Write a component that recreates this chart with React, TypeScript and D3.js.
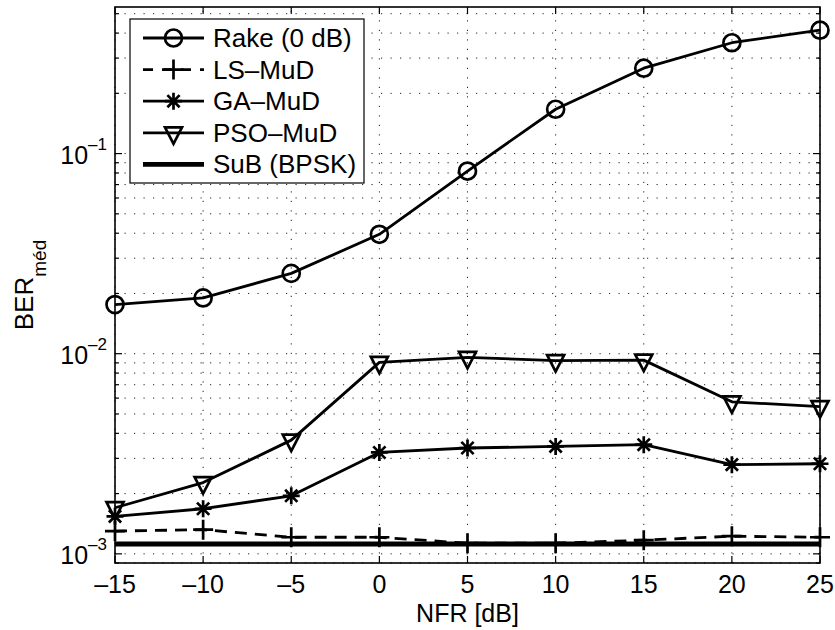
import React from "react";
import * as d3 from "d3";

// NFR sweep (dB) and median BER per detector
const nfr = [-15, -10, -5, 0, 5, 10, 15, 20, 25];
const rake = [0.0176, 0.019, 0.0252, 0.0395, 0.0818, 0.1665, 0.267, 0.358, 0.4135];
const lsMud = [0.0013, 0.00132, 0.00121, 0.00121, 0.00113, 0.00113, 0.00117, 0.001225, 0.00121];
const gaMud = [0.00154, 0.00168, 0.00195, 0.00321, 0.00338, 0.00344, 0.00351, 0.00279, 0.00282];
const psoMud = [0.0017, 0.00227, 0.0037, 0.00905, 0.00959, 0.00923, 0.00929, 0.00575, 0.00544];
const subBpsk = [0.00112, 0.00112, 0.00112, 0.00112, 0.00112, 0.00112, 0.00112, 0.00112, 0.00112];

const xTicks = [-15, -10, -5, 0, 5, 10, 15, 20, 25];
const yDecades = [-3, -2, -1];
const legendLabels = ["Rake (0 dB)", "LS\u2013MuD", "GA\u2013MuD", "PSO\u2013MuD", "SuB (BPSK)"];

const W = 835;
const H = 630;
const M = { left: 115, right: 820, top: 7, bottom: 563 };
const FONT = "'Liberation Sans', Arial, Helvetica, sans-serif";

type Kind = "circle" | "plus" | "star" | "tri" | "none";

function Marker({ kind, cx, cy }: { kind: Kind; cx: number; cy: number }) {
  const sw = 2.7;
  if (kind === "circle")
    return <circle cx={cx} cy={cy} r={8.5} fill="none" stroke="#000" strokeWidth={sw} />;
  if (kind === "plus") {
    const s = 10;
    return (
      <path d={`M${cx - s},${cy}H${cx + s}M${cx},${cy - s}V${cy + s}`} stroke="#000" strokeWidth={sw} fill="none" />
    );
  }
  if (kind === "star") {
    const s = 8.5;
    const d = s * 0.72;
    return (
      <path
        d={`M${cx - s},${cy}H${cx + s}M${cx},${cy - s}V${cy + s}M${cx - d},${cy - d}L${cx + d},${cy + d}M${cx - d},${cy + d}L${cx + d},${cy - d}`}
        stroke="#000"
        strokeWidth={sw}
        fill="none"
      />
    );
  }
  if (kind === "tri") {
    const hw = 8.5;
    const h = 16.5;
    return (
      <path
        d={`M${cx - hw},${cy - h / 3}L${cx + hw},${cy - h / 3}L${cx},${cy + (2 * h) / 3}Z`}
        fill="none"
        stroke="#000"
        strokeWidth={sw}
        strokeLinejoin="miter"
      />
    );
  }
  return null;
}

export default function App() {
  const x = d3.scaleLinear().domain([-15, 25]).range([M.left, M.right]);
  const y = d3.scaleLog().domain([9e-4, 0.54]).range([M.bottom, M.top]);

  const line = d3
    .line<[number, number]>()
    .x((d) => x(d[0]))
    .y((d) => y(d[1]));

  const series: { values: number[]; kind: Kind; dash?: string; width: number }[] = [
    { values: rake, kind: "circle", width: 2.8 },
    { values: lsMud, kind: "plus", dash: "12 8", width: 2.8 },
    { values: gaMud, kind: "star", width: 2.8 },
    { values: psoMud, kind: "tri", width: 2.8 },
    { values: subBpsk, kind: "none", width: 4.8 },
  ];

  // all major + minor log grid values inside the domain
  const [y0, y1] = y.domain();
  const yGrid: number[] = [];
  for (let e = -4; e <= 0; e++) {
    for (let m = 1; m <= 9; m++) {
      const v = m * Math.pow(10, e);
      if (v >= y0 * 0.999 && v <= y1 * 1.001) yGrid.push(v);
    }
  }
  const isMajor = (v: number) => Math.abs(Math.log10(v) - Math.round(Math.log10(v))) < 1e-9;

  const dot = "1.2 8.3";
  const legend = { x0: 130, y0: 19, x1: 364, y1: 183 };
  const rowY = (i: number) => 38 + i * 31.6;

  return (
    <svg
      width={W}
      height={H}
      style={{ position: "absolute", left: 0, top: 0, background: "#fff" }}
      fontFamily={FONT}
    >
      <rect x={0} y={0} width={W} height={H} fill="#fff" />

      {/* dotted grid */}
      <g stroke="#222" strokeWidth={1} strokeDasharray={dot} fill="none">
        {xTicks.map((t) => (
          <line key={"gx" + t} x1={x(t)} x2={x(t)} y1={M.bottom} y2={M.top} />
        ))}
        {yGrid.map((v) => (
          <line key={"gy" + v} x1={M.left} x2={M.right} y1={y(v)} y2={y(v)} />
        ))}
      </g>

      {/* series */}
      {series.map((s, i) => {
        const pts = nfr.map((n, k) => [n, s.values[k]] as [number, number]);
        return (
          <g key={"s" + i}>
            <path
              d={line(pts) || ""}
              fill="none"
              stroke="#000"
              strokeWidth={s.width}
              strokeDasharray={s.dash}
              strokeLinejoin="round"
            />
            {pts.map((p, k) => (
              <Marker key={k} kind={s.kind} cx={x(p[0])} cy={y(p[1])} />
            ))}
          </g>
        );
      })}

      {/* frame and ticks */}
      <rect
        x={M.left}
        y={M.top}
        width={M.right - M.left}
        height={M.bottom - M.top}
        fill="none"
        stroke="#000"
        strokeWidth={1.6}
      />
      <g stroke="#000" strokeWidth={1.2}>
        {xTicks.map((t) => (
          <g key={"tx" + t}>
            <line x1={x(t)} x2={x(t)} y1={M.bottom} y2={M.bottom - 7} />
            <line x1={x(t)} x2={x(t)} y1={M.top} y2={M.top + 7} />
          </g>
        ))}
        {yGrid.map((v) => {
          const len = isMajor(v) ? 7 : 4;
          return (
            <g key={"ty" + v}>
              <line x1={M.left} x2={M.left + len} y1={y(v)} y2={y(v)} />
              <line x1={M.right} x2={M.right - len} y1={y(v)} y2={y(v)} />
            </g>
          );
        })}
      </g>

      {/* x tick labels */}
      <g fontSize={25} textAnchor="middle" fill="#000">
        {xTicks.map((t) => (
          <text key={"lx" + t} x={x(t)} y={593}>
            {t < 0 ? "\u2013" + Math.abs(t) : String(t)}
          </text>
        ))}
      </g>

      {/* y tick labels: 10^e */}
      <g fill="#000">
        {yDecades.map((e) => {
          const yy = y(Math.pow(10, e)) + 10.5;
          return (
            <text key={"ly" + e} x={107} y={yy} textAnchor="end" fontSize={25}>
              10
              <tspan fontSize={17} dy={-14}>
                {"\u2013" + Math.abs(e)}
              </tspan>
            </text>
          );
        })}
      </g>

      {/* axis labels */}
      <text x={(M.left + M.right) / 2} y={622} textAnchor="middle" fontSize={25} fill="#000">
        NFR [dB]
      </text>
      <text transform="translate(33,285) rotate(-90)" textAnchor="middle" fontSize={26} fill="#000">
        BER
        <tspan fontSize={19} dy={13}>
          méd
        </tspan>
      </text>

      {/* legend */}
      <rect
        x={legend.x0}
        y={legend.y0}
        width={legend.x1 - legend.x0}
        height={legend.y1 - legend.y0}
        fill="#fff"
        stroke="#000"
        strokeWidth={1.2}
      />
      {series.map((s, i) => {
        const cy = rowY(i);
        return (
          <g key={"lg" + i}>
            <line
              x1={143}
              x2={204}
              y1={cy}
              y2={cy}
              stroke="#000"
              strokeWidth={s.width}
              strokeDasharray={s.dash ? "10 9" : undefined}
            />
            <Marker kind={s.kind} cx={173.5} cy={cy} />
            <text x={213} y={cy + 9} fontSize={26} fill="#000">
              {legendLabels[i]}
            </text>
          </g>
        );
      })}
    </svg>
  );
}
